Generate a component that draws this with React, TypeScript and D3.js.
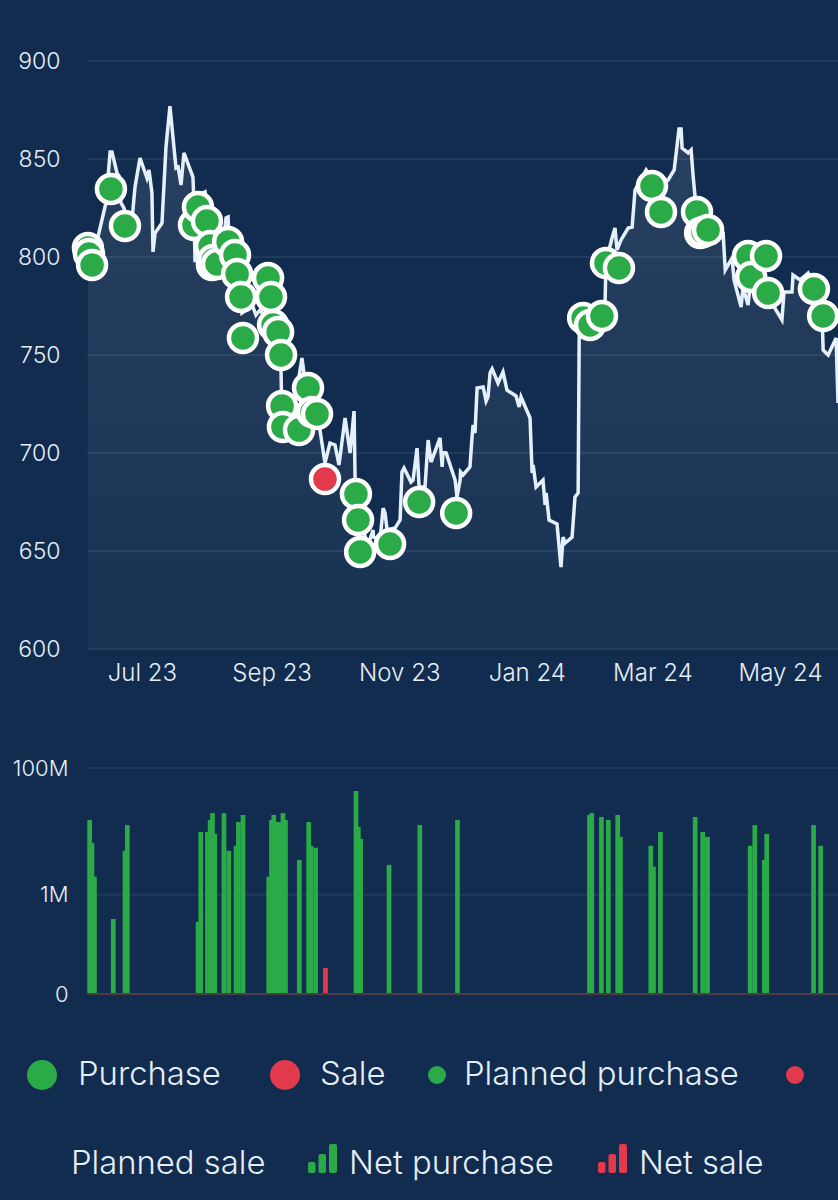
import React, { useEffect, useRef } from 'react'
import * as d3 from 'd3'

// x values are days since the first day on the chart
const startDate = new Date(2023, 5, 5)

const priceDays = [
  0.2, 1.2, 2.2, 3.6, 5, 8.8, 10.8, 11.7, 14.1, 15.1, 16, 17.4, 18.9, 20.8, 21.7, 22.7, 25.1, 28.4, 29.4, 30.8,
  31.3, 32.3, 35.6, 37.5, 39.4, 42.3, 43.3, 44.7, 46.1, 50.4, 50.7, 51.4, 53.3, 55.2, 56.2, 57.1, 59.5, 64.3, 66.2,
  67.2, 67.6, 71.9, 73.8, 75.8, 77.2, 79.1, 80.5, 82.5, 84.4, 87.2, 89.6, 92.5, 92.7, 93.9, 96.8, 99.7, 102.5,
  103.5, 105.4, 109.2, 111.1, 113.5, 115.9, 118.3, 120.2, 123.1, 125.5, 127.4, 127.9, 129.3, 131.7, 134.1, 136.5,
  136.7, 139.8, 141.3, 142.2, 143.2, 147, 149.4, 150.3, 151.3, 154.6, 155.6, 157.5, 158.5, 161.3, 162.8, 164.2,
  168.5, 169.5, 169.9, 171.4, 175.7, 176.6, 178.1, 178.3, 179.5, 182.8, 183.8, 184.3, 185.2, 186.2, 189.1, 190.5,
  191.4, 192.4, 193.4, 196.2, 198.6, 200.5, 204.8, 206.3, 207.2, 211.5, 212.5, 213, 214.4, 217.7, 218.7, 219.2,
  220.6, 224.4, 226.3, 227.3, 228.3, 231.6, 233, 234.5, 235, 236.9, 238.8, 242.6, 246.4, 247.4, 247.8, 250.7,
  252.1, 253.1, 255, 258.4, 260.3, 261.7, 267, 269.8, 277.5, 280.4, 282.7, 283.7, 284.2, 287.1, 288.5, 289.5,
  290.4, 292.8, 297.6, 303.8, 304.8, 308.1, 309, 312.4, 313.3, 315.7, 317.6, 321.5, 326.2, 331.9, 332.9, 336.7,
  337.2, 340.6, 344.4, 347.7, 351.1, 351.6, 354, 357.8, 358.7,
]

const priceValues = [
  804.6, 802, 797.4, 803.6, 810.2, 827.6, 853.6, 853.6, 842.9, 841.3, 827.6, 825, 817.9, 816.3, 824, 835.7, 850.5,
  840.3, 844.4, 832.7, 802.6, 812.2, 817.3, 856.1, 877, 845.4, 845.9, 836.7, 853.1, 840.8, 832.7, 797.4, 808.7,
  832.7, 833.2, 826.6, 808.7, 798.5, 819.9, 820.4, 808.7, 788.3, 771.4, 773, 778.1, 774.5, 770.4, 773, 769.9, 778.1,
  767.9, 741.3, 731.1, 716.8, 711.7, 729.6, 748.5, 740.3, 729.6, 716.8, 711.7, 694.9, 705.1, 704.1, 693.9, 717.9,
  700, 721.4, 686.2, 668.4, 660.7, 653, 660.7, 657.1, 655.6, 671.9, 669.4, 660.7, 661.7, 665.8, 690.3, 692.3, 685.2,
  686.2, 702.5, 682.7, 682.7, 706.6, 695.4, 707.7, 692.9, 700.5, 700, 686.2, 677.6, 686.2, 690.3, 688.8, 692.9,
  708.2, 714.4, 710.2, 733.2, 733.7, 726.5, 728.6, 740.8, 742.9, 735.7, 741.3, 732.1, 729.1, 723.5, 728.6, 717.9,
  689.8, 693.9, 682.7, 686.2, 673.5, 679.6, 665.8, 663.8, 641.8, 657.1, 654.1, 657.1, 677.6, 679.6, 759.2, 770.4,
  766.8, 765.3, 773, 778.1, 797.4, 809.7, 814.8, 803.6, 808.7, 814.8, 815.3, 834.2, 844.4, 839.3, 839.3, 844.4,
  865.3, 865.3, 855.6, 853.1, 854.6, 840.8, 830.6, 821.4, 816.3, 812.2, 793.4, 799.5, 788.3, 774.5, 784.7, 775.5,
  793.4, 793.4, 778.1, 767.9, 782.1, 782.1, 790.8, 788.3, 791.8, 783.2, 770.4, 752.6, 750, 758.7, 725.5,
]

const purchaseDays = [
  0.2, 0.7, 2.2, 11.2, 17.9, 50.9, 52.8, 57.1, 58.6, 59.5, 60, 61.9, 67.2, 70.5, 71.5, 73.4, 74.3, 86.3, 87.7, 88.7,
  91.1, 92.5, 93, 93.4, 101.1, 105.4, 107.3, 109.7, 128.3, 129.3, 130.3, 144.6, 158.5, 176.2, 236.9, 240.2, 245.9,
  247.8, 254, 269.8, 274.1, 291.3, 292.8, 294.2, 296.6, 315.7, 317.2, 324.3, 325.3, 347.2, 351.6,
]

const purchasePrices = [
  804.6, 801.5, 795.9, 834.7, 815.8, 816.3, 825.5, 818.4, 805.6, 795.9, 798.5, 796.4, 807.7, 801, 791.3, 779.6, 758.7,
  789.3, 779.6, 765.3, 761.7, 750, 724, 713.3, 711.7, 733.2, 720.9, 719.9, 679.1, 665.8, 649.5, 653.6, 675, 669.4,
  768.9, 765.3, 769.9, 796.9, 794.4, 836.2, 823, 823, 812.2, 812.8, 813.8, 800.5, 789.8, 800.5, 781.6, 783.7, 769.9,
]

const saleDays = [113.5]
const salePrices = [686.7]

const netPurchaseDays = [
  -0.1, 1, 2.2, 11.2, 16.8, 17.9, 51.7, 53, 56.2, 57.5, 58.6, 59.7, 64.1, 66.4, 69.9, 71, 73.2, 85.5, 86.8, 87.9, 89,
  90.1, 91.2, 92.3, 93.5, 100.1, 104.6, 105.7, 107.9, 127.2, 128.3, 129.4, 143, 157.7, 175.7, 238.8, 239.9, 244.5,
  247.8, 252.3, 253.6, 268.1, 269.4, 272.7, 289.3, 292.9, 295.2, 315.6, 317.8, 322.4, 323.5, 345.9, 349.3,
]

const netPurchaseValues = [
  15.3e6, 6.66e6, 1.95e6, 0.4e6, 5e6, 12.7e6, 0.357e6, 9.9e6, 9.9e6, 15.3e6, 19.6e6, 9.2e6, 19.6e6, 5e6, 6e6, 14.2e6,
  18.3e6, 1.95e6, 15.3e6, 18.3e6, 7.7e6, 14.2e6, 14.2e6, 19.6e6, 15.3e6, 3.6e6, 14.2e6, 6e6, 5.6e6, 43.5e6, 11.9e6,
  7.7e6, 3e6, 12.7e6, 15.3e6, 18.3e6, 19.6e6, 17e6, 15.3e6, 18.3e6, 8.3e6, 6e6, 2.8e6, 9.9e6, 17e6, 9.9e6, 8.3e6, 6e6,
  12.7e6, 3.6e6, 9.2e6, 12.7e6, 6e6,
]

const netSaleDays = [112.6]
const netSaleValues = [44500]

const priceTicks = [600, 650, 700, 750, 800, 850, 900]
const volumeTicks = [0, 1e6, 1e8]
const dateTicks = [
  new Date(2023, 6, 1),
  new Date(2023, 8, 1),
  new Date(2023, 10, 1),
  new Date(2024, 0, 1),
  new Date(2024, 2, 1),
  new Date(2024, 4, 1),
]

const bg = '#112c4f'
const textColor = '#e6eef7'
const green = '#2bab47'
const red = '#e23a4c'
const gridColor = 'rgba(255,255,255,0.07)'
const fontFamily = 'Inter, sans-serif'

const width = 838
const height = 1200
const marginLeft = 87.5

const toDate = (d: number) => new Date(startDate.getTime() + d * 864e5)

function BarsIcon({ x, color }: { x: number; color: string }) {
  return (
    <g fill={color}>
      <rect x={x} y={1162} width={7.5} height={11} rx={2} />
      <rect x={x + 10.5} y={1154} width={7.5} height={19} rx={2} />
      <rect x={x + 21} y={1144} width={8} height={29} rx={2} />
    </g>
  )
}

export default function App(): React.ReactElement {
  const chartRef = useRef<SVGGElement>(null)

  useEffect(() => {
    const root = d3.select(chartRef.current)
    root.selectAll('*').remove()

    const x = d3
      .scaleTime()
      .domain([startDate, toDate(358.7)])
      .range([marginLeft, width])
    const y = d3.scaleLinear().domain([600, 900]).range([649, 61])
    const yVol = d3.scaleSymlog().constant(28600).domain([0, 1e8]).range([994, 768])

    const points = priceDays.map((d, i) => ({ date: toDate(d), value: priceValues[i] }))

    const styleAxis = (g: any, size: number) => {
      g.select('.domain').remove()
      g.selectAll('text')
        .attr('fill', textColor)
        .attr('font-family', fontFamily)
        .attr('font-weight', 300)
        .attr('font-size', size)
    }

    // price grid and axis
    root
      .append('g')
      .attr('stroke', gridColor)
      .attr('stroke-width', 2)
      .selectAll('line')
      .data(priceTicks)
      .join('line')
      .attr('x1', marginLeft)
      .attr('x2', width)
      .attr('y1', (d) => y(d))
      .attr('y2', (d) => y(d))

    root
      .append('g')
      .attr('transform', `translate(${marginLeft},0)`)
      .call(d3.axisLeft(y).tickValues(priceTicks).tickSize(0).tickPadding(27).tickFormat(d3.format('d') as any))
      .call((g) => styleAxis(g, 23))

    root
      .append('g')
      .attr('transform', 'translate(0,664)')
      .call(
        d3
          .axisBottom(x)
          .tickValues(dateTicks)
          .tickSize(0)
          .tickPadding(0)
          .tickFormat(d3.timeFormat('%b %y') as any)
      )
      .call((g) => styleAxis(g, 24))

    // area + line
    const area = d3
      .area<{ date: Date; value: number }>()
      .x((d) => x(d.date))
      .y0(y(600))
      .y1((d) => y(d.value))
    const line = d3
      .line<{ date: Date; value: number }>()
      .x((d) => x(d.date))
      .y((d) => y(d.value))

    root.append('path').datum(points).attr('fill', 'url(#priceFill)').attr('d', area)
    root
      .append('path')
      .datum(points)
      .attr('fill', 'none')
      .attr('stroke', '#e6f0fa')
      .attr('stroke-width', 3.5)
      .attr('d', line)

    // trades, later ones on top
    const trades = [
      ...purchaseDays.map((d, i) => ({ day: d, price: purchasePrices[i], color: green })),
      ...saleDays.map((d, i) => ({ day: d, price: salePrices[i], color: red })),
    ].sort((a, b) => a.day - b.day)

    root
      .append('g')
      .selectAll('circle')
      .data(trades)
      .join('circle')
      .attr('cx', (d) => x(toDate(d.day)))
      .attr('cy', (d) => y(d.price))
      .attr('r', 14)
      .attr('fill', (d) => d.color)
      .attr('stroke', '#fff')
      .attr('stroke-width', 4.5)

    // volume panel
    root
      .append('g')
      .attr('stroke', gridColor)
      .attr('stroke-width', 2)
      .selectAll('line')
      .data(volumeTicks.filter((d) => d > 0))
      .join('line')
      .attr('x1', marginLeft)
      .attr('x2', width)
      .attr('y1', (d) => yVol(d))
      .attr('y2', (d) => yVol(d))

    root
      .append('g')
      .attr('transform', `translate(${marginLeft},0)`)
      .call(
        d3
          .axisLeft(yVol)
          .tickValues(volumeTicks)
          .tickSize(0)
          .tickPadding(19)
          .tickFormat((d: any) => (d === 0 ? '0' : `${d / 1e6}M`))
      )
      .call((g) => styleAxis(g, 22))

    root
      .append('line')
      .attr('x1', marginLeft)
      .attr('x2', width)
      .attr('y1', yVol(0))
      .attr('y2', yVol(0))
      .attr('stroke', '#4c3c44')
      .attr('stroke-width', 2)

    const barWidth = 4.7
    root
      .append('g')
      .attr('fill', green)
      .selectAll('rect')
      .data(netPurchaseDays.map((d, i) => ({ day: d, value: netPurchaseValues[i] })))
      .join('rect')
      .attr('x', (d) => x(toDate(d.day)))
      .attr('y', (d) => yVol(d.value))
      .attr('width', barWidth)
      .attr('height', (d) => yVol(0) - 1 - yVol(d.value))

    root
      .append('g')
      .attr('fill', red)
      .selectAll('rect')
      .data(netSaleDays.map((d, i) => ({ day: d, value: netSaleValues[i] })))
      .join('rect')
      .attr('x', (d) => x(toDate(d.day)))
      .attr('y', (d) => yVol(d.value))
      .attr('width', barWidth)
      .attr('height', (d) => yVol(0) - 1 - yVol(d.value))
  }, [])

  const legendText = { fill: textColor, fontFamily, fontSize: 32.8, fontWeight: 300 }

  return (
    <svg
      width={width}
      height={height}
      viewBox={`0 0 ${width} ${height}`}
      style={{ position: 'absolute', left: 0, top: 0, display: 'block', background: bg }}
    >
      <defs>
        <linearGradient id="priceFill" x1="0" y1="0" x2="0" y2="1">
          <stop offset="0%" stopColor="#fff" stopOpacity={0.1} />
          <stop offset="100%" stopColor="#fff" stopOpacity={0.03} />
        </linearGradient>
      </defs>
      <g ref={chartRef} />
      <g>
        <circle cx={42} cy={1075} r={15} fill={green} />
        <text x={78} y={1085} {...legendText}>Purchase</text>
        <circle cx={285} cy={1075} r={15} fill={red} />
        <text x={320} y={1085} {...legendText}>Sale</text>
        <circle cx={437} cy={1075} r={9} fill={green} />
        <text x={464} y={1085} {...legendText}>Planned purchase</text>
        <circle cx={795} cy={1075} r={9} fill={red} />
        <text x={71} y={1174} {...legendText}>Planned sale</text>
        <BarsIcon x={308} color={green} />
        <text x={349} y={1174} {...legendText}>Net purchase</text>
        <BarsIcon x={598} color={red} />
        <text x={639} y={1174} {...legendText}>Net sale</text>
      </g>
    </svg>
  )
}
